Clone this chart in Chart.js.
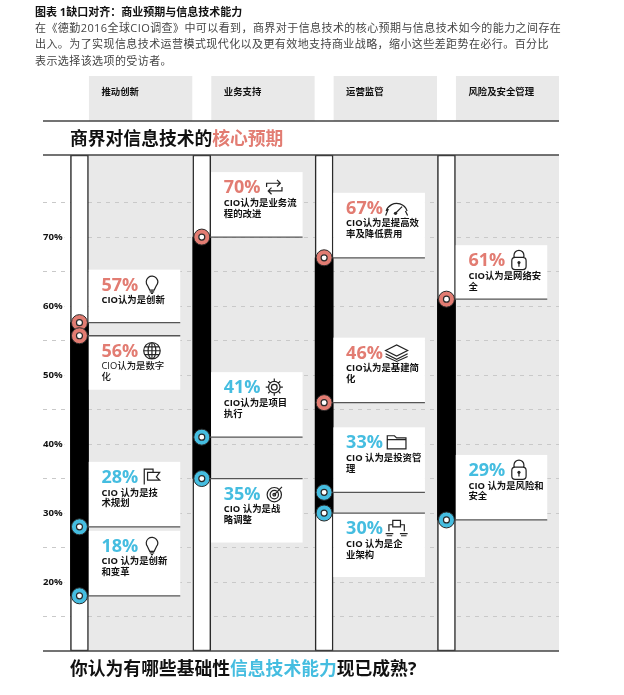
<!DOCTYPE html>
<html lang="zh">
<head>
<meta charset="utf-8">
<title>缺口对齐</title>
<script src="https://cdn.jsdelivr.net/npm/chart.js@4"></script>
<style>
  body { margin: 0; background: #fff; font-family: "Open Sans", "Noto Sans CJK SC", sans-serif; }
  #page { position: relative; width: 624px; height: 695px; overflow: hidden; }
  canvas { position: absolute; left: 0; top: 0; }
  .text { position: absolute; white-space: nowrap; }
  #heading { left: 35px; top: 4px; font-size: 11px; line-height: 16px; font-weight: 700; color: #111; }
  #intro { left: 35px; top: 20px; font-size: 11px; line-height: 16.4px; letter-spacing: .42px; color: #444; }
  .banner { left: 70px; font-size: 17.8px; line-height: 24px; font-weight: 700; color: #111; }
  #bannerTop { top: 126px; }
  #bannerBottom { top: 656px; }
  .salmon { color: #e27c72; }
  .blue { color: #45bde0; }
</style>
</head>
<body>
<div id="page">
  <canvas id="gap-chart" width="624" height="695"></canvas>
  <div class="text" id="heading">图表 1缺口对齐：商业预期与信息技术能力</div>
  <div class="text" id="intro">在《德勤2016全球CIO调查》中可以看到，商界对于信息技术的核心预期与信息技术如今的能力之间存在<br>出入。为了实现信息技术运营模式现代化以及更有效地支持商业战略，缩小这些差距势在必行。百分比<br>表示选择该选项的受访者。</div>
  <div class="text banner" id="bannerTop">商界对信息技术的<span class="salmon">核心预期</span></div>
  <div class="text banner" id="bannerBottom">你认为有哪些基础性<span class="blue">信息技术能力</span>现已成熟?</div>
</div>
<script>
/*global Chart */
const categories = ['推动创新', '业务支持', '运营监管', '风险及安全管理']
const columnPositions = [0, 1, 2, 3]

// the two series, one group per category
const expectationValues = [[57.6, 55.7], [70], [67, 46], [61]]
const capabilityValues = [[28, 18], [41, 35], [33, 30], [29]]

const callouts = [
  ['57%', ['CIO认为是创新'], 'bulb'],
  ['56%', ['CIO认为是数字', '化'], 'globe'],
  ['28%', ['CIO 认为是技', '术规划'], 'flag'],
  ['18%', ['CIO 认为是创新', '和变革'], 'bulb'],
  ['70%', ['CIO认为是业务流', '程的改进'], 'cycle'],
  ['41%', ['CIO认为是项目', '执行'], 'gear'],
  ['35%', ['CIO 认为是战', '略调整'], 'target'],
  ['67%', ['CIO认为是提高效', '率及降低费用'], 'gauge'],
  ['46%', ['CIO认为是基建简', '化'], 'layers'],
  ['33%', ['CIO 认为是投资管', '理'], 'folder'],
  ['30%', ['CIO 认为是企', '业架构'], 'network'],
  ['61%', ['CIO认为是网络安', '全'], 'lock'],
  ['29%', ['CIO 认为是风险和', '安全'], 'lock'],
]

const SALMON = '#e27c72'
const BLUE = '#45bde0'
const DARK = '#2a2a2a'
const FONT = '"Open Sans", "Noto Sans CJK SC", sans-serif'
const AXIS_MIN = 10
const AXIS_MAX = 81.9

// box height and side of the line for each callout, same order as above
const calloutBoxes = [
  [53, -1], [54, 1], [65, -1], [65, -1], [65, -1], [65, -1], [64, 1],
  [65, -1], [65, -1], [65, -1], [64, 1], [54, -1], [65, -1],
]

const icons = {
  bulb(c, x, y) {
    c.beginPath()
    c.arc(x, y - 2.5, 5.2, Math.PI * 0.78, Math.PI * 0.22)
    c.lineTo(x + 2, y + 5)
    c.lineTo(x - 2, y + 5)
    c.closePath()
    c.moveTo(x - 2, y + 6.5)
    c.lineTo(x + 2, y + 6.5)
    c.moveTo(x - 1, y + 8)
    c.lineTo(x + 1, y + 8)
    c.stroke()
  },
  globe(c, x, y) {
    c.beginPath()
    c.arc(x, y, 7.5, 0, Math.PI * 2)
    c.moveTo(x + 3.5, y)
    c.ellipse(x, y, 3.5, 7.5, 0, 0, Math.PI * 2)
    c.moveTo(x, y - 7.5)
    c.lineTo(x, y + 7.5)
    c.moveTo(x - 7.5, y)
    c.lineTo(x + 7.5, y)
    c.moveTo(x - 6.5, y - 3.5)
    c.lineTo(x + 6.5, y - 3.5)
    c.moveTo(x - 6.5, y + 3.5)
    c.lineTo(x + 6.5, y + 3.5)
    c.stroke()
  },
  flag(c, x, y) {
    c.beginPath()
    c.moveTo(x - 7, y + 7)
    c.lineTo(x - 7, y - 7)
    c.lineTo(x + 1, y - 7)
    c.lineTo(x + 1, y - 4)
    c.lineTo(x + 7, y - 4)
    c.lineTo(x + 4, y)
    c.lineTo(x + 7, y + 3)
    c.lineTo(x - 4, y + 3)
    c.lineTo(x - 4, y - 4)
    c.lineTo(x + 1, y - 4)
    c.stroke()
  },
  cycle(c, x, y) {
    c.beginPath()
    c.moveTo(x - 7, y)
    c.lineTo(x - 7, y - 3.5)
    c.lineTo(x + 5, y - 3.5)
    c.moveTo(x + 2.5, y - 6.5)
    c.lineTo(x + 5.5, y - 3.5)
    c.lineTo(x + 2.5, y - 0.5)
    c.moveTo(x + 7, y)
    c.lineTo(x + 7, y + 3.5)
    c.lineTo(x - 5, y + 3.5)
    c.moveTo(x - 2.5, y + 0.5)
    c.lineTo(x - 5.5, y + 3.5)
    c.lineTo(x - 2.5, y + 6.5)
    c.stroke()
  },
  gear(c, x, y) {
    c.beginPath()
    c.arc(x, y, 5.2, 0, Math.PI * 2)
    c.moveTo(x + 2.6, y)
    c.arc(x, y, 2.6, 0, Math.PI * 2)
    for (let i = 0; i < 8; i++) {
      const a = i * Math.PI / 4
      c.moveTo(x + Math.cos(a) * 5.2, y + Math.sin(a) * 5.2)
      c.lineTo(x + Math.cos(a) * 7.8, y + Math.sin(a) * 7.8)
    }
    c.stroke()
  },
  target(c, x, y) {
    c.beginPath()
    c.arc(x, y + 1, 6.5, 0, Math.PI * 2)
    c.moveTo(x + 3.8, y + 1)
    c.arc(x, y + 1, 3.8, 0, Math.PI * 2)
    c.moveTo(x + 1.2, y + 1)
    c.arc(x, y + 1, 1.2, 0, Math.PI * 2)
    c.moveTo(x, y + 1)
    c.lineTo(x + 7, y - 6)
    c.stroke()
  },
  gauge(c, x, y) {
    c.beginPath()
    c.arc(x, y + 6, 10, Math.PI * 1.1, Math.PI * 1.9)
    c.moveTo(x - 1, y + 5)
    c.lineTo(x + 5, y - 1)
    c.moveTo(x - 10, y + 7)
    c.lineTo(x - 7.5, y + 1)
    c.moveTo(x + 10, y + 7)
    c.lineTo(x + 8, y + 3)
    c.stroke()
    c.beginPath()
    c.arc(x - 1, y + 5, 1.5, 0, Math.PI * 2)
    c.fill()
  },
  layers(c, x, y) {
    c.beginPath()
    c.moveTo(x - 10, y - 2)
    c.lineTo(x, y - 7)
    c.lineTo(x + 10, y - 2)
    c.lineTo(x, y + 3)
    c.closePath()
    c.moveTo(x - 10, y + 1)
    c.lineTo(x, y + 6)
    c.lineTo(x + 10, y + 1)
    c.moveTo(x - 10, y + 3.5)
    c.lineTo(x, y + 8)
    c.lineTo(x + 10, y + 3.5)
    c.stroke()
  },
  folder(c, x, y) {
    c.beginPath()
    c.moveTo(x - 8.5, y + 6)
    c.lineTo(x - 8.5, y - 6)
    c.lineTo(x - 2, y - 6)
    c.lineTo(x, y - 4)
    c.lineTo(x + 8.5, y - 4)
    c.lineTo(x + 8.5, y + 6)
    c.closePath()
    c.moveTo(x - 8.5, y - 2.5)
    c.lineTo(x + 8.5, y - 2.5)
    c.stroke()
  },
  network(c, x, y) {
    c.beginPath()
    c.rect(x - 3.5, y - 7, 7, 6)
    c.moveTo(x - 7, y + 3)
    c.lineTo(x - 7, y - 3)
    c.lineTo(x - 3.5, y - 3)
    c.moveTo(x + 7, y + 3)
    c.lineTo(x + 7, y - 3)
    c.lineTo(x + 3.5, y - 3)
    c.moveTo(x - 10, y + 5)
    c.lineTo(x - 3, y + 5)
    c.moveTo(x - 9, y + 7)
    c.lineTo(x - 4, y + 7)
    c.moveTo(x + 3, y + 5)
    c.lineTo(x + 10, y + 5)
    c.moveTo(x + 4, y + 7)
    c.lineTo(x + 9, y + 7)
    c.stroke()
  },
  lock(c, x, y) {
    c.beginPath()
    c.roundRect(x - 6.5, y - 2.5, 13, 11, 3)
    c.moveTo(x - 4.5, y - 2.5)
    c.lineTo(x - 4.5, y - 4.5)
    c.arc(x, y - 4.5, 4.5, Math.PI, 0)
    c.lineTo(x + 4.5, y - 2.5)
    c.moveTo(x, y + 3)
    c.lineTo(x, y + 6)
    c.stroke()
    c.beginPath()
    c.arc(x, y + 2.2, 1.4, 0, Math.PI * 2)
    c.fill()
  },
}

const backdrop = {
  id: 'backdrop',
  beforeDraw(chart) {
    const { ctx, chartArea: area, scales: { x } } = chart
    ctx.save()
    ctx.fillStyle = '#e9e9e9'
    ctx.fillRect(x.getPixelForValue(0) + 9, area.top, area.right - x.getPixelForValue(0) - 9, area.bottom - area.top)
    columnPositions.forEach((pos, i) => {
      const left = x.getPixelForValue(pos) + 9.5
      const right = x.getPixelForValue(pos + 1) - 9.5
      ctx.fillStyle = '#e9e9e9'
      ctx.fillRect(left, 76, (i === 3 ? area.right : right) - left, 45)
      ctx.fillStyle = '#111'
      ctx.font = `bold 9.4px ${FONT}`
      ctx.textBaseline = 'middle'
      ctx.fillText(categories[i], x.getPixelForValue(pos) + 22, 92.5)
    })
    ctx.restore()
  },
}

const calloutPlugin = {
  id: 'calloutPlugin',
  afterDatasetsDraw(chart) {
    const { ctx, chartArea: area, scales: { x, y } } = chart
    ctx.save()

    // horizontal rules of the frame
    ctx.strokeStyle = '#444'
    ctx.lineWidth = 1.5
    ;[121, area.top, area.bottom].forEach(ruleY => {
      ctx.beginPath()
      ctx.moveTo(area.left, ruleY)
      ctx.lineTo(area.right, ruleY)
      ctx.stroke()
    })

    let n = 0
    columnPositions.forEach((pos, col) => {
      const centre = x.getPixelForValue(pos)
      const series = [[expectationValues[col], SALMON], [capabilityValues[col], BLUE]]
      series.forEach(([values, colour]) => {
        values.forEach(value => {
          const [percent, lines, icon] = callouts[n]
          const [height, side] = calloutBoxes[n]
          n++
          const lineY = y.getPixelForValue(value)
          const left = centre + 9.3
          const textX = centre + 22
          const top = side < 0 ? lineY - height : lineY

          ctx.fillStyle = '#fff'
          ctx.fillRect(left, top, 91.5, height)

          ctx.strokeStyle = '#555'
          ctx.lineWidth = 1.3
          ctx.beginPath()
          ctx.moveTo(left - 1, lineY)
          ctx.lineTo(left + 91.5, lineY)
          ctx.stroke()

          ctx.textBaseline = 'middle'
          ctx.fillStyle = colour
          ctx.font = `bold 18px ${FONT}`
          ctx.fillText(percent, textX, top + 16)

          ctx.fillStyle = '#111'
          ctx.font = `${percent === '56%' ? '500' : 'bold'} 9.4px ${FONT}`
          lines.forEach((line, l) => ctx.fillText(line, textX, top + 31 + l * 10.8))

          ctx.save()
          ctx.translate(textX + 50.5, top + 15)
          ctx.scale(1.1, 1.1)
          ctx.strokeStyle = '#222'
          ctx.fillStyle = '#222'
          ctx.lineWidth = 1.1
          icons[icon](ctx, 0, 0)
          ctx.restore()
        })
      })
    })
    ctx.restore()
  },
}

// markers go on top of the callout boxes, so they get their own layer
const markerData = groups => groups.flatMap((values, i) => values.map(value => ({ x: columnPositions[i], y: value })))
const allExpect = markerData(expectationValues)
const allCapability = markerData(capabilityValues)
const barTops = expectationValues.map(values => Math.max(...values))
const barBottoms = capabilityValues.map(values => Math.min(...values))

new Chart(document.getElementById('gap-chart'), {
  type: 'bar',
  plugins: [backdrop, calloutPlugin],
  data: {
    datasets: [
      {
        label: 'column',
        order: 5,
        grouped: false,
        barThickness: 18,
        backgroundColor: '#fff',
        borderColor: DARK,
        borderWidth: 1.5,
        borderSkipped: false,
        data: columnPositions.map(pos => ({ x: pos, y: [AXIS_MIN, AXIS_MAX] })),
      },
      {
        label: 'gap',
        order: 4,
        grouped: false,
        barThickness: 18,
        backgroundColor: '#000',
        data: columnPositions.map((pos, i) => ({ x: pos, y: [barBottoms[i], barTops[i]] })),
      },
      {
        type: 'line',
        label: 'expectation',
        order: 3,
        showLine: false,
        pointRadius: 8,
        pointBackgroundColor: SALMON,
        pointBorderColor: DARK,
        pointBorderWidth: 1,
        data: allExpect,
      },
      {
        type: 'line',
        label: 'capability',
        order: 2,
        showLine: false,
        pointRadius: 8,
        pointBackgroundColor: BLUE,
        pointBorderColor: DARK,
        pointBorderWidth: 1,
        data: allCapability,
      },
      {
        type: 'line',
        label: 'centre',
        order: 1,
        showLine: false,
        pointRadius: 3,
        pointBackgroundColor: '#fff',
        pointBorderColor: DARK,
        pointBorderWidth: 1.2,
        data: allExpect.concat(allCapability),
      },
    ],
  },
  options: {
    responsive: false,
    animation: false,
    layout: { padding: { left: 43, right: 65, top: 155, bottom: 44 } },
    plugins: { legend: { display: false }, tooltip: { enabled: false } },
    scales: {
      x: { type: 'linear', display: false, offset: false, min: -0.298, max: 3.92 },
      y: {
        min: AXIS_MIN,
        max: AXIS_MAX,
        border: { display: false, dash: [4, 5] },
        grid: {
          drawTicks: false,
          lineWidth: 1,
          color: ctx => (ctx.tick.value > 75 || ctx.tick.value <= 10 ? 'transparent' : '#c9c9c9'),
        },
        ticks: {
          stepSize: 5,
          includeBounds: false,
          mirror: true,
          padding: 0,
          color: '#111',
          font: { family: FONT, size: 9.6, weight: 'bold' },
          showLabelBackdrop: true,
          backdropPadding: 2,
          backdropColor: ctx => (ctx.tick.value % 10 === 0 && ctx.tick.value > 10 && ctx.tick.value < 75 ? '#fff' : 'transparent'),
          callback: value => (value % 10 === 0 && value > 10 && value < 75 ? `${value}%` : ''),
        },
      },
    },
  },
})
</script>
</body>
</html>
